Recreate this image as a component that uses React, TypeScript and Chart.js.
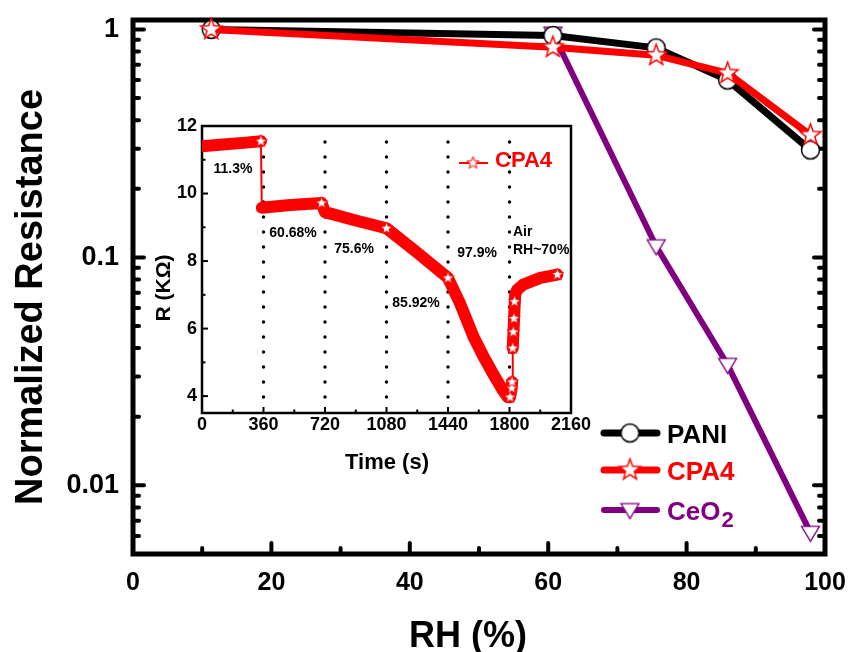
import React, { useEffect, useRef } from 'react';
import { Chart, registerables } from 'chart.js';

Chart.register(...registerables);

const FONT = '"Liberation Sans", Arial, Helvetica, sans-serif';

// ---- Main chart data ----
const RH = [11.3, 60.68, 75.6, 85.92, 97.9];
const PANI = [1.0, 0.94, 0.83, 0.6, 0.296];
const CPA4 = [1.0, 0.835, 0.77, 0.643, 0.344];
const CEO2 = [null, 0.96, 0.112, 0.0338, 0.0062];
const X_TICKS = [0, 20, 40, 60, 80, 100];
const Y_TICKS = [0.01, 0.1, 1];

// ---- Inset data (CPA4 resistance vs time) ----
const TIME = [0, 120, 240, 345, 350, 500, 700, 720, 900, 1080, 1260, 1440, 1510, 1590, 1650, 1705, 1760, 1790, 1803, 1813, 1815, 1819, 1826, 1833, 1845, 1880, 1980, 2080];
const RES = [11.4, 11.45, 11.5, 11.55, 9.58, 9.65, 9.72, 9.45, 9.2, 8.97, 8.25, 7.5, 6.75, 5.75, 5.15, 4.65, 4.18, 3.97, 3.97, 4.24, 4.42, 5.42, 6.2, 7.0, 7.15, 7.3, 7.5, 7.6];
const STAR_TIME = [345, 700, 1080, 1440, 1803, 1813, 1815, 1819, 1822, 1826, 1830, 2080];
const STAR_RES = [11.55, 9.72, 8.97, 7.5, 3.97, 4.24, 4.42, 5.42, 5.9, 6.3, 6.8, 7.6];
const INSET_X_TICKS = [0, 360, 720, 1080, 1440, 1800, 2160];
const INSET_Y_TICKS = [4, 6, 8, 10, 12];
const SWITCH_TIMES = [360, 720, 1080, 1440, 1800];
const STEP_LABELS = ['11.3%', '60.68%', '75.6%', '85.92%', '97.9%', 'Air', 'RH~70%'];
const STEP_LABEL_T = [181, 533, 890, 1253, 1610, 1820, 1820];
const STEP_LABEL_R = [10.73, 8.83, 8.36, 6.76, 8.24, 8.86, 8.33];

function starImage(outer: number, inner: number, color: string, lw: number) {
  const size = Math.ceil(outer * 2 + lw * 2 + 2);
  const c = document.createElement('canvas');
  c.width = size; c.height = size;
  const g = c.getContext('2d')!;
  g.translate(size / 2, size / 2);
  g.beginPath();
  for (let i = 0; i < 10; i++) {
    const r = i % 2 === 0 ? outer : inner;
    const a = -Math.PI / 2 + (i * Math.PI) / 5;
    g.lineTo(r * Math.cos(a), r * Math.sin(a));
  }
  g.closePath();
  g.fillStyle = '#fff'; g.fill();
  g.strokeStyle = color; g.lineWidth = lw; g.lineJoin = 'miter'; g.stroke();
  return c;
}
function circleImage(r: number, color: string, lw: number) {
  const size = Math.ceil(r * 2 + lw * 2 + 2);
  const c = document.createElement('canvas');
  c.width = size; c.height = size;
  const g = c.getContext('2d')!;
  g.beginPath(); g.arc(size / 2, size / 2, r, 0, Math.PI * 2);
  g.fillStyle = '#fff'; g.fill();
  g.strokeStyle = color; g.lineWidth = lw; g.stroke();
  return c;
}
function triDownImage(hw: number, h: number, color: string, lw: number) {
  const size = Math.ceil(Math.max(hw * 2, h) + lw * 2 + 4);
  const c = document.createElement('canvas');
  c.width = size; c.height = size;
  const g = c.getContext('2d')!;
  g.translate(size / 2, size / 2);
  g.beginPath();
  g.moveTo(-hw, -h * 0.42); g.lineTo(hw, -h * 0.42); g.lineTo(0, h * 0.58); g.closePath();
  g.fillStyle = '#fff'; g.fill();
  g.strokeStyle = color; g.lineWidth = lw; g.stroke();
  return c;
}

const RED = '#ff0000';
const PURPLE = '#800080';

const noMargins = (s: any) => {
  s.paddingLeft = 0; s.paddingRight = 0; s.paddingTop = 0; s.paddingBottom = 0;
};

export default function App() {
  const mainRef = useRef<HTMLCanvasElement>(null);
  const insetRef = useRef<HTMLCanvasElement>(null);

  useEffect(() => {
    const star = starImage(11, 4.6, RED, 1.5);
    const circ = circleImage(9, '#000', 1.5);
    const tri = triDownImage(9, 15, PURPLE, 1.3);
    const smallStar = starImage(6.5, 2.7, RED, 1);

    const mainPlugin = {
      id: 'mainDeco',
      beforeDatasetsDraw(chart: any) {
        const ctx = chart.ctx; const a = chart.chartArea;
        const xs = chart.scales.x; const ys = chart.scales.y;
        ctx.save();
        ctx.strokeStyle = '#000'; ctx.lineCap = 'round'; ctx.lineWidth = 4;
        for (let v = 0; v <= 100; v += 10) {
          const px = xs.getPixelForValue(v);
          const len = v % 20 === 0 ? 11 : 6;
          ctx.beginPath(); ctx.moveTo(px, a.bottom); ctx.lineTo(px, a.bottom - len); ctx.stroke();
        }
        for (let d = -3; d <= 0; d++) {
          for (let m = 1; m <= 9; m++) {
            const v = m * Math.pow(10, d);
            if (v < ys.min - 1e-12 || v > ys.max) continue;
            const py = ys.getPixelForValue(v);
            const len = m === 1 ? 11 : 6;
            ctx.beginPath(); ctx.moveTo(a.left, py); ctx.lineTo(a.left + len, py); ctx.stroke();
            ctx.beginPath(); ctx.moveTo(a.right, py); ctx.lineTo(a.right - len, py); ctx.stroke();
          }
        }
        ctx.lineCap = 'square'; ctx.lineWidth = 5;
        ctx.strokeRect(a.left, a.top, a.right - a.left, a.bottom - a.top);
        ctx.restore();
      },
      afterDraw(chart: any) {
        const ctx = chart.ctx;
        ctx.save();
        ctx.fillStyle = '#000';
        ctx.font = `bold 38px ${FONT}`;
        ctx.textAlign = 'center'; ctx.textBaseline = 'alphabetic';
        ctx.save(); ctx.translate(42, 297); ctx.rotate(-Math.PI / 2);
        ctx.fillText('Normalized Resistance', 0, 0); ctx.restore();
        ctx.font = `bold 36px ${FONT}`;
        ctx.fillText('RH (%)', 468, 647);
        const items = [
          { label: 'PANI', color: '#000', img: circ, y: 433, lw: 7 },
          { label: 'CPA4', color: RED, img: star, y: 470, lw: 7 },
          { label: 'CeO', sub: '2', color: PURPLE, img: tri, y: 510, lw: 6 },
        ];
        items.forEach((it: any) => {
          ctx.strokeStyle = it.color; ctx.lineWidth = it.lw; ctx.lineCap = 'round';
          ctx.beginPath(); ctx.moveTo(604, it.y); ctx.lineTo(657, it.y); ctx.stroke();
          ctx.drawImage(it.img, 630 - it.img.width / 2, it.y - it.img.height / 2);
          ctx.fillStyle = it.color; ctx.textAlign = 'left'; ctx.textBaseline = 'alphabetic';
          ctx.font = `bold 26px ${FONT}`;
          ctx.fillText(it.label, 667, it.y + 10);
          if (it.sub) {
            const w = ctx.measureText(it.label).width;
            ctx.font = `bold 22px ${FONT}`;
            ctx.fillText(it.sub, 667 + w + 1, it.y + 17);
          }
        });
        ctx.restore();
      },
    };

    const pts = (arr: (number | null)[]) =>
      RH.map((x, i) => ({ x, y: arr[i] })).filter((p) => p.y !== null);

    const main = new Chart(mainRef.current!, {
      type: 'line',
      data: {
        datasets: [
          { label: 'CPA4', data: pts(CPA4), borderColor: RED, borderWidth: 7, pointStyle: star as any, pointRadius: 11, order: 0, clip: false as any, borderJoinStyle: 'round' },
          { label: 'PANI', data: pts(PANI), borderColor: '#000', borderWidth: 7, pointStyle: circ as any, pointRadius: 9, order: 1, clip: false as any, borderJoinStyle: 'round' },
          { label: 'CeO2', data: pts(CEO2), borderColor: PURPLE, borderWidth: 6, pointStyle: tri as any, pointRadius: 9, order: 2, clip: false as any, borderJoinStyle: 'round' },
        ] as any,
      },
      options: {
        responsive: false,
        animation: false,
        layout: { padding: { left: 0, right: 26, top: 20, bottom: 0 } },
        plugins: { legend: { display: false }, tooltip: { enabled: false } },
        elements: { line: { tension: 0 } },
        scales: {
          x: {
            type: 'linear', min: 0, max: 100,
            afterBuildTicks: (s: any) => { s.ticks = X_TICKS.map((v) => ({ value: v })); },
            ticks: { font: { family: FONT, size: 25, weight: 'bold' }, color: '#000', padding: 14, maxRotation: 0, autoSkip: false },
            grid: { display: false, drawTicks: false }, border: { display: false },
            afterFit: (s: any) => { s.height = 98; noMargins(s); },
          },
          y: {
            type: 'logarithmic', min: 0.005, max: 1.1,
            afterBuildTicks: (s: any) => { s.ticks = Y_TICKS.map((v) => ({ value: v })); },
            ticks: { font: { family: FONT, size: 27, weight: 'bold' }, color: '#000', padding: 14, autoSkip: false, callback: (v: any) => String(v) },
            grid: { display: false, drawTicks: false }, border: { display: false },
            afterFit: (s: any) => { s.width = 133; noMargins(s); },
          },
        },
      } as any,
      plugins: [mainPlugin],
    });

    const insetPlugin = {
      id: 'insetDeco',
      beforeDatasetsDraw(chart: any) {
        const ctx = chart.ctx; const a = chart.chartArea;
        const xs = chart.scales.x; const ys = chart.scales.y;
        ctx.save();
        ctx.fillStyle = '#fff';
        ctx.fillRect(a.left, a.top, a.right - a.left, a.bottom - a.top);
        ctx.fillStyle = '#000';
        SWITCH_TIMES.forEach((t) => {
          const px = xs.getPixelForValue(t);
          for (let yy = a.top + 16; yy < a.bottom - 8; yy += 15) {
            ctx.beginPath(); ctx.arc(px, yy, 1.7, 0, Math.PI * 2); ctx.fill();
          }
        });
        ctx.strokeStyle = '#000'; ctx.lineWidth = 2; ctx.lineCap = 'butt';
        for (let t = 0; t <= 2160; t += 180) {
          const px = xs.getPixelForValue(t);
          const len = t % 360 === 0 ? 6 : 3.5;
          ctx.beginPath(); ctx.moveTo(px, a.bottom); ctx.lineTo(px, a.bottom - len); ctx.stroke();
        }
        for (let r = 4; r <= 12; r += 1) {
          const py = ys.getPixelForValue(r);
          const len = r % 2 === 0 ? 6 : 3.5;
          ctx.beginPath(); ctx.moveTo(a.left, py); ctx.lineTo(a.left + len, py); ctx.stroke();
        }
        ctx.lineWidth = 2.5;
        ctx.strokeRect(a.left, a.top, a.right - a.left, a.bottom - a.top);
        ctx.restore();
      },
      afterDraw(chart: any) {
        const ctx = chart.ctx;
        const xs = chart.scales.x; const ys = chart.scales.y;
        ctx.save();
        ctx.fillStyle = '#000';
        ctx.font = `bold 14px ${FONT}`;
        ctx.textBaseline = 'middle';
        STEP_LABELS.forEach((txt, i) => {
          ctx.textAlign = i >= 5 ? 'left' : 'center';
          ctx.fillText(txt, xs.getPixelForValue(STEP_LABEL_T[i]), ys.getPixelForValue(STEP_LABEL_R[i]));
        });
        ctx.textBaseline = 'alphabetic'; ctx.textAlign = 'center';
        ctx.font = `bold 22px ${FONT}`;
        ctx.fillText('Time (s)', 387, 469);
        ctx.save(); ctx.translate(170, 288); ctx.rotate(-Math.PI / 2);
        ctx.font = `bold 21px ${FONT}`;
        ctx.fillText('R (KΩ)', 0, 0); ctx.restore();
        ctx.strokeStyle = RED; ctx.lineWidth = 2;
        ctx.beginPath(); ctx.moveTo(459, 163); ctx.lineTo(488, 163); ctx.stroke();
        ctx.drawImage(smallStar, 473 - smallStar.width / 2, 163 - smallStar.height / 2);
        ctx.fillStyle = RED; ctx.textAlign = 'left';
        ctx.font = `bold 22px ${FONT}`;
        ctx.fillText('CPA4', 495, 167);
        ctx.restore();
      },
    };

    const seriesPts = TIME.map((t, i) => ({ x: t, y: RES[i] }));
    const starPts = STAR_TIME.map((t, i) => ({ x: t, y: STAR_RES[i] }));

    const inset = new Chart(insetRef.current!, {
      type: 'line',
      data: {
        datasets: [
          { label: 'stars', data: starPts, showLine: false, pointStyle: smallStar as any, pointRadius: 6.5, order: 0, clip: false as any },
          {
            label: 'band', data: seriesPts, borderColor: RED, borderWidth: 12, pointRadius: 0, order: 1, borderJoinStyle: 'round', borderCapStyle: 'round',
            segment: {
              borderColor: (c: any) => (Math.abs(c.p1.parsed.y - c.p0.parsed.y) > 0.9 && Math.abs(c.p1.parsed.x - c.p0.parsed.x) < 30 ? 'rgba(0,0,0,0)' : undefined),
            },
          },
          { label: 'CPA4', data: seriesPts, borderColor: RED, borderWidth: 2, pointRadius: 0, order: 2 },
        ] as any,
      },
      options: {
        responsive: false,
        animation: false,
        layout: { padding: { left: 162, right: 280, top: 126, bottom: 209 } },
        plugins: { legend: { display: false }, tooltip: { enabled: false } },
        elements: { line: { tension: 0 } },
        scales: {
          x: {
            type: 'linear', min: 0, max: 2160,
            afterBuildTicks: (s: any) => { s.ticks = INSET_X_TICKS.map((v) => ({ value: v })); },
            ticks: { font: { family: FONT, size: 18, weight: 'bold' }, color: '#000', padding: 1, maxRotation: 0, autoSkip: false, callback: (v: any) => String(v) },
            grid: { display: false, drawTicks: false }, border: { display: false },
            afterFit: (s: any) => { s.height = 30; noMargins(s); },
          },
          y: {
            type: 'linear', min: 3.5, max: 12,
            afterBuildTicks: (s: any) => { s.ticks = INSET_Y_TICKS.map((v) => ({ value: v })); },
            ticks: { font: { family: FONT, size: 18, weight: 'bold' }, color: '#000', padding: 5, autoSkip: false, callback: (v: any) => String(v) },
            grid: { display: false, drawTicks: false }, border: { display: false },
            afterFit: (s: any) => { s.width = 40; noMargins(s); },
          },
        },
      } as any,
      plugins: [insetPlugin],
    });

    return () => { main.destroy(); inset.destroy(); };
  }, []);

  return (
    <div style={{ position: 'fixed', left: 0, top: 0, width: 851, height: 652, background: '#fff' }}>
      <canvas ref={mainRef} width={851} height={652} style={{ position: 'absolute', left: 0, top: 0 }} />
      <canvas ref={insetRef} width={851} height={652} style={{ position: 'absolute', left: 0, top: 0 }} />
    </div>
  );
}
